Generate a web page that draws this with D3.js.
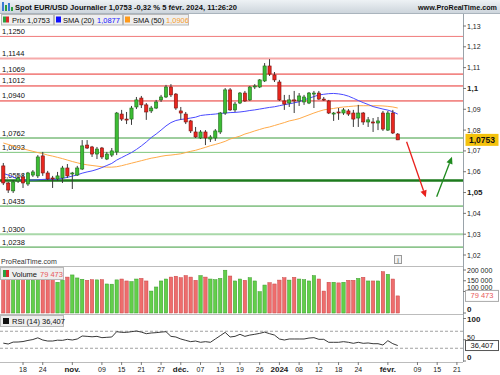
<!DOCTYPE html>
<html><head><meta charset="utf-8">
<script src="https://cdn.jsdelivr.net/npm/d3@7"></script>
<style>body{margin:0;background:#fff;} svg{display:block;font-family:"Liberation Sans",Arial,sans-serif;}</style>
</head><body><svg id="c" width="500" height="375"></svg>
<script>
// ---------------- DATA ----------------
const dates = [
 "2023-10-12","2023-10-13","2023-10-16","2023-10-17","2023-10-18","2023-10-19","2023-10-20","2023-10-23","2023-10-24","2023-10-25","2023-10-26","2023-10-27","2023-10-30","2023-10-31",
 "2023-11-01","2023-11-02","2023-11-03","2023-11-06","2023-11-07","2023-11-08","2023-11-09","2023-11-10","2023-11-13","2023-11-14","2023-11-15","2023-11-16","2023-11-17","2023-11-20","2023-11-21","2023-11-22","2023-11-23","2023-11-24","2023-11-27","2023-11-28","2023-11-29","2023-11-30",
 "2023-12-01","2023-12-04","2023-12-05","2023-12-06","2023-12-07","2023-12-08","2023-12-11","2023-12-12","2023-12-13","2023-12-14","2023-12-15","2023-12-18","2023-12-19","2023-12-20","2023-12-21","2023-12-22","2023-12-26","2023-12-27","2023-12-28","2023-12-29",
 "2024-01-02","2024-01-03","2024-01-04","2024-01-05","2024-01-08","2024-01-09","2024-01-10","2024-01-11","2024-01-12","2024-01-15","2024-01-16","2024-01-17","2024-01-18","2024-01-19","2024-01-22","2024-01-23","2024-01-24","2024-01-25","2024-01-26","2024-01-29","2024-01-30","2024-01-31",
 "2024-02-01","2024-02-02","2024-02-05"];
const futureDates = ["2024-02-06","2024-02-07","2024-02-08","2024-02-09","2024-02-12","2024-02-13","2024-02-14","2024-02-15","2024-02-16","2024-02-19","2024-02-20","2024-02-21"];

const open = [1.0628,1.0546,1.0508,1.0556,1.0575,1.0541,1.0584,1.0580,1.0676,1.0594,
 1.0570,1.0565,1.0570,1.0618,1.0589,1.0584,1.0613,1.0728,1.0719,1.0685,
 1.0714,1.0661,1.0680,1.0695,1.0877,1.0853,1.0853,1.0911,1.0954,1.0921,
 1.0892,1.0906,1.0945,1.0959,1.1007,1.0973,1.0892,1.0877,1.0844,1.0791,
 1.0762,1.0791,1.0757,1.0762,1.0791,1.0882,1.0993,1.0897,1.0930,1.0978,
 1.0945,1.1007,1.1007,1.1036,1.1108,1.1065,1.1031,1.0940,1.0930,1.0945,
 1.0940,1.0935,1.0930,1.0973,1.0978,1.0949,1.0940,1.0877,1.0887,1.0882,
 1.0892,1.0882,1.0858,1.0882,1.0839,1.0839,1.0834,1.0882,1.0800,1.0882,
 1.0781];
const high = [1.0642,1.0551,1.0560,1.0584,1.0594,1.0599,1.0608,1.0680,1.0695,1.0604,
 1.0580,1.0599,1.0628,1.0637,1.0599,1.0628,1.0752,1.0752,1.0724,1.0719,
 1.0719,1.0695,1.0714,1.0887,1.0897,1.0887,1.0916,1.0959,1.0964,1.0930,
 1.0916,1.0945,1.0969,1.1017,1.1021,1.0978,1.0911,1.0887,1.0849,1.0815,
 1.0800,1.0800,1.0776,1.0805,1.0887,1.1002,1.1002,1.0935,1.0983,1.0988,
 1.1012,1.1021,1.1045,1.1122,1.1141,1.1079,1.1041,1.0969,1.0969,1.0988,
 1.0978,1.0969,1.0983,1.0988,1.0988,1.0959,1.0945,1.0887,1.0906,1.0906,
 1.0901,1.0897,1.0921,1.0887,1.0863,1.0858,1.0863,1.0892,1.0892,1.0897,
 1.0786];
const low = [1.0536,1.0498,1.0498,1.0546,1.0522,1.0532,1.0575,1.0570,1.0580,1.0560,
 1.0522,1.0556,1.0546,1.0570,1.0517,1.0580,1.0608,1.0709,1.0671,1.0661,
 1.0661,1.0656,1.0671,1.0680,1.0844,1.0829,1.0825,1.0901,1.0906,1.0849,
 1.0882,1.0901,1.0935,1.0954,1.0959,1.0897,1.0849,1.0829,1.0786,1.0762,
 1.0757,1.0728,1.0743,1.0748,1.0781,1.0873,1.0892,1.0887,1.0925,1.0935,
 1.0940,1.0997,1.1002,1.1031,1.1060,1.1031,1.0940,1.0897,1.0911,1.0882,
 1.0916,1.0921,1.0925,1.0906,1.0945,1.0940,1.0877,1.0844,1.0849,1.0873,
 1.0868,1.0815,1.0815,1.0825,1.0815,1.0791,1.0800,1.0796,1.0796,1.0781,
 1.0752];
const close = [1.0546,1.0512,1.0551,1.0570,1.0546,1.0594,1.0599,1.0671,1.0594,1.0565,
 1.0565,1.0580,1.0618,1.0580,1.0594,1.0618,1.0724,1.0714,1.0685,1.0709,
 1.0671,1.0685,1.0700,1.0882,1.0853,1.0849,1.0906,1.0945,1.0921,1.0887,
 1.0906,1.0935,1.0959,1.1007,1.0969,1.0906,1.0882,1.0839,1.0796,1.0767,
 1.0791,1.0762,1.0767,1.0796,1.0882,1.0993,1.0897,1.0925,1.0978,1.0940,
 1.1007,1.1012,1.1041,1.1108,1.1069,1.1041,1.0945,1.0925,1.0945,1.0940,
 1.0964,1.0959,1.0978,1.0978,1.0949,1.0945,1.0882,1.0882,1.0882,1.0897,
 1.0877,1.0853,1.0882,1.0839,1.0849,1.0834,1.0844,1.0805,1.0882,1.0786,
 1.0753];
const sma20 = [1.0592,1.0584,1.0575,1.0563,1.0560,1.0560,1.0560,1.0561,1.0563,1.0564,
 1.0564,1.0564,1.0568,1.0573,1.0579,1.0585,1.0593,1.0599,1.0604,1.0611,
 1.0620,1.0630,1.0640,1.0656,1.0668,1.0680,1.0692,1.0707,1.0724,1.0743,
 1.0764,1.0781,1.0800,1.0820,1.0836,1.0846,1.0851,1.0854,1.0858,1.0862,
 1.0870,1.0873,1.0875,1.0877,1.0880,1.0882,1.0884,1.0885,1.0887,1.0890,
 1.0894,1.0897,1.0901,1.0905,1.0909,1.0912,1.0917,1.0922,1.0926,1.0931,
 1.0936,1.0945,1.0953,1.0961,1.0969,1.0972,1.0975,1.0976,1.0974,1.0970,
 1.0963,1.0953,1.0942,1.0932,1.0923,1.0913,1.0907,1.0901,1.0896,1.0888,
 1.0877];
const sma50 = [1.0738,1.0731,1.0724,1.0716,1.0710,1.0704,1.0698,1.0692,1.0687,1.0680,
 1.0675,1.0669,1.0663,1.0656,1.0649,1.0643,1.0637,1.0633,1.0630,1.0627,
 1.0624,1.0622,1.0622,1.0624,1.0629,1.0635,1.0641,1.0647,1.0653,1.0659,
 1.0665,1.0669,1.0674,1.0678,1.0680,1.0683,1.0686,1.0692,1.0698,1.0703,
 1.0710,1.0717,1.0725,1.0731,1.0738,1.0746,1.0757,1.0764,1.0771,1.0781,
 1.0788,1.0796,1.0803,1.0810,1.0815,1.0822,1.0829,1.0836,1.0844,1.0849,
 1.0855,1.0864,1.0873,1.0882,1.0890,1.0897,1.0901,1.0904,1.0908,1.0911,
 1.0913,1.0915,1.0917,1.0917,1.0917,1.0917,1.0917,1.0916,1.0914,1.0911,
 1.0906];
const volume = [164000,167000,158000,158000,167000,167000,152000,158000,154000,154000,
 161000,143000,152000,167000,177000,163000,157000,152000,155000,154000,
 155000,135000,134000,154000,158000,149000,146000,158000,161000,149000,
 102000,121000,149000,158000,167000,171000,164000,174000,167000,152000,
 174000,167000,158000,155000,161000,199000,172000,149000,158000,152000,
 164000,149000,99000,130000,141000,135000,153000,164000,153000,166000,
 158000,155000,149000,174000,158000,102000,143000,143000,140000,143000,
 152000,152000,161000,166000,149000,149000,149000,192000,180000,158000,
 79473];
const rsi14 = [42,40,44.5,44.7,45.8,48.4,50.5,54.5,49.4,47,
 47,49,48.6,51,49.4,51.8,58.8,58,57,58,
 54.9,55.7,56.5,69,67.4,67.4,69,70.6,68,64.3,
 65.9,66.7,68,69,58,56.5,51.8,48.6,45.5,47,
 44,45.5,44,51.8,59.5,67.4,56.5,58,62.8,58,
 61,62.8,65,68,64.3,61,51.8,49.4,51.8,51.8,
 51.8,51.8,54,54.9,51,51,44,44,44,45.5,
 44,41.6,44,41.6,42.4,40.7,40.7,37.6,47.8,40.7,
 36.407];

const levels = [1.1250,1.1144,1.1069,1.1012,1.0940,1.0762,1.0693,1.0558,1.0435,1.0300,1.0238];
const levelLabels = ["1,1250","1,1144","1,1069","1,1012","1,0940","1,0762","1,0693","1,0558","1,0435","1,0300","1,0238"];
const levelKinds = ["resLight","resPale","res","res","res","sup","supLight","supMajor","sup","supPale","sup"];

const priceTicks = [1.13,1.12,1.11,1.10,1.09,1.08,1.07,1.06,1.05,1.04,1.03,1.02];
const priceTickLabels = ["1,13","1,12","1,11","1,1","1,09","1,08","1,07","1,06","1,05","1,04","1,03","1,02"];
const volumeTicks = [0,100000,150000,200000];
const volumeTickLabels = ["0","100 000","150 000","200 000"];
const rsiTicks = [0,50,100];
const rsiTickLabels = ["0","50","100"];
const rsiBands = [70,30];

const tickDates = ["2023-10-18","2023-10-24","2023-11-01","2023-11-09","2023-11-15","2023-11-21","2023-11-27","2023-12-01","2023-12-07","2023-12-13","2023-12-19","2023-12-26","2024-01-02","2024-01-08","2024-01-12","2024-01-18","2024-01-24","2024-02-01","2024-02-09","2024-02-15","2024-02-21"];
const tickLabels = ["18","24","nov.","09","15","21","27","déc.","07","13","19","26","2024","08","12","18","24","févr.","09","15","21"];
const tickMajor = ["nov.","déc.","2024","févr."];

// annotation arrows: [bar index, price]
const arrowStart = [[81.8,1.0744],[87.9,1.0480]];
const arrowEnd = [[85.7,1.0477],[91.0,1.0672]];
const arrowKinds = ["down","up"];

const title = "Spot EUR/USD Journalier 1,0753 -0,32 % 5 févr. 2024, 11:26:20";
const lastPrice = "1,0753", sma20Label = "1,0877", sma50Label = "1,0906";
const lastVolume = "79 473", lastRsi = "36,407";

// ---------------- DRAW ----------------
const svg = d3.select("#c");
const AX = 463;
const allDates = dates.concat(futureDates);
const x = d3.scalePoint().domain(allDates).range([3.3, 456.9]);
const xi = d3.scaleLinear().domain([0, allDates.length - 1]).range([3.3, 456.9]);
const y = d3.scaleLinear().domain([1.02, 1.13]).range([255, 26]);
const yv = d3.scaleLinear().domain([0, 200000]).range([313, 270]);
const yr = d3.scaleLinear().domain([0, 100]).range([361, 318.5]);

const defs = svg.append("defs");
const hg = defs.append("linearGradient").attr("id","hg").attr("x1",0).attr("y1",0).attr("x2",0).attr("y2",1);
hg.append("stop").attr("offset",0).attr("stop-color","#eef2f5");
hg.append("stop").attr("offset",1).attr("stop-color","#cdd5dc");
defs.append("clipPath").attr("id","mainClip").append("rect").attr("x",0).attr("y",26).attr("width",AX).attr("height",240);

function txt(g, xx, yy, s, o = {}) {
  const t = g.append("text").attr("x", xx).attr("y", yy).text(s)
    .attr("font-size", o.size || 7.5).attr("fill", o.fill || "#111")
    .attr("font-weight", o.bold ? "bold" : "normal")
    .attr("text-anchor", o.anchor || "start");
  if (o.len) t.attr("textLength", o.len).attr("lengthAdjust", "spacingAndGlyphs");
  return t;
}

// header
svg.append("rect").attr("x",0).attr("y",0).attr("width",500).attr("height",13).attr("fill","url(#hg)");
svg.append("line").attr("x1",0).attr("x2",500).attr("y1",13.5).attr("y2",13.5).attr("stroke","#aab4bd");
[[2,7,"#3a7bd5"],[5,4,"#2aa040"],[8,6,"#3a7bd5"],[11,2,"#2aa040"]].forEach(([bx,bh,c]) =>
  svg.append("rect").attr("x",bx).attr("y",11-bh-2).attr("width",2).attr("height",bh+2).attr("fill",c));
txt(svg, 15, 10, title, {bold:true, size:8, len:222});
txt(svg, 418, 10, "www.ProRealTime.com", {bold:true, size:7.5, len:79});

// legend row
const leg = svg.append("g");
function legBox(x0, w) {
  leg.append("rect").attr("x",x0+0.5).attr("y",14.5).attr("width",w).attr("height",10.5)
    .attr("fill","#eeeeee").attr("stroke","#b9b9b9");
}
legBox(1,52); legBox(54,68); legBox(123,65);
leg.append("rect").attr("x",3).attr("y",16.5).attr("width",3).attr("height",6).attr("fill","#2aa040");
leg.append("rect").attr("x",6).attr("y",16.5).attr("width",3).attr("height",6).attr("fill","#d92b2b");
txt(leg, 12, 22.5, "Prix " + lastPrice, {size:7.5});
leg.append("rect").attr("x",56).attr("y",16.5).attr("width",5).attr("height",6).attr("fill","#1010ff");
txt(leg, 63, 22.5, "SMA (20)", {size:7.5});
txt(leg, 97, 22.5, sma20Label, {size:7.5, fill:"#2020ff"});
leg.append("rect").attr("x",125).attr("y",16.5).attr("width",5).attr("height",6).attr("fill","#ff9a1a");
txt(leg, 133, 22.5, "SMA (50)", {size:7.5});
txt(leg, 166, 22.5, sma50Label, {size:7.5, fill:"#f7a030"});

// main panel
const main = svg.append("g").attr("clip-path","url(#mainClip)");
const levelStyle = {
  resLight: {c:"#f07a7a", w:1}, resPale: {c:"#f6aaaa", w:2}, res: {c:"#e8302c", w:1},
  sup: {c:"#3c9c3c", w:1}, supLight: {c:"#7dc57d", w:1}, supMajor: {c:"#1d7a1d", w:2.5},
  supPale: {c:"#a9d8a9", w:2}
};
const lv = levels.map((v,i) => ({v, label: levelLabels[i], kind: levelKinds[i]}));
main.selectAll("line.lvl").data(lv).join("line").attr("class","lvl")
  .attr("x1",0).attr("x2",AX).attr("y1",d=>y(d.v)).attr("y2",d=>y(d.v))
  .attr("stroke",d=>levelStyle[d.kind].c).attr("stroke-width",d=>levelStyle[d.kind].w);
main.selectAll("text.lvl").data(lv).join("text").attr("class","lvl")
  .attr("x",2).attr("y",d=>y(d.v)-2.5).text(d=>d.label)
  .attr("font-size",7.5).attr("fill","#111");

// moving averages
const lineGen = arr => d3.line().x((d,i)=>x(dates[i])).y(d=>y(d))(arr);
main.append("path").attr("d", lineGen(sma50)).attr("fill","none").attr("stroke","#ffab4a").attr("stroke-width",1);
main.append("path").attr("d", lineGen(sma20)).attr("fill","none").attr("stroke","#4a4aff").attr("stroke-width",1);

// candles
const candles = dates.map((d,i)=>({d, o:open[i], h:high[i], l:low[i], c:close[i]}));
main.selectAll("line.wick").data(candles).join("line").attr("class","wick")
  .attr("x1",d=>x(d.d)).attr("x2",d=>x(d.d)).attr("y1",d=>y(d.h)).attr("y2",d=>y(d.l))
  .attr("stroke","#3a3a3a").attr("stroke-width",1);
main.selectAll("rect.body").data(candles).join("rect").attr("class","body")
  .attr("x",d=>x(d.d)-1.6).attr("width",3.2)
  .attr("y",d=>y(Math.max(d.o,d.c)))
  .attr("height",d=>Math.max(1, Math.abs(y(d.o)-y(d.c))))
  .attr("fill",d=>d.c>=d.o ? "#3cbc34" : "#e8261f")
  .attr("stroke",d=>d.c>=d.o ? "#1f6a1a" : "#7a1410").attr("stroke-width",0.6);

// arrows
const arrowColor = {down:"#e8201c", up:"#1f8a1f"};
arrowStart.forEach((s,i) => {
  const x1 = xi(s[0]), y1 = y(s[1]), x2 = xi(arrowEnd[i][0]), y2 = y(arrowEnd[i][1]);
  const ang = Math.atan2(y2-y1, x2-x1), L = 7, Wd = 3.2;
  const bx = x2 - L*Math.cos(ang), by = y2 - L*Math.sin(ang);
  const col = arrowColor[arrowKinds[i]];
  main.append("line").attr("x1",x1).attr("y1",y1).attr("x2",bx).attr("y2",by)
    .attr("stroke",col).attr("stroke-width",1.3);
  const px = -Math.sin(ang)*Wd, py = Math.cos(ang)*Wd;
  main.append("polygon").attr("points",[[x2,y2],[bx+px,by+py],[bx-px,by-py]].map(p=>p.join(",")).join(" "))
    .attr("fill",col);
});

// ProRealTime watermark & info icon
txt(svg, 1, 263.5, "ProRealTime.com", {size:7, fill:"#333"});
svg.append("rect").attr("x",394.5).attr("y",255.5).attr("width",7).attr("height",8).attr("fill","#f2f2f2").attr("stroke","#999");
txt(svg, 398, 262.5, "i", {size:7, anchor:"middle", fill:"#555"});

// panel separators
[266.5, 314.5, 362.5].forEach(yy => svg.append("line").attr("x1",0).attr("x2",AX).attr("y1",yy).attr("y2",yy).attr("stroke","#bcbcbc"));
svg.append("line").attr("x1",AX+0.5).attr("x2",AX+0.5).attr("y1",14).attr("y2",362).attr("stroke","#9aa3aa");

// price axis
const pa = svg.append("g");
priceTicks.forEach((v,i) => {
  const yy = y(v);
  pa.append("line").attr("x1",AX).attr("x2",AX+3).attr("y1",yy).attr("y2",yy).attr("stroke","#777");
  const major = priceTickLabels[i] === "1,1" || priceTickLabels[i] === "1,05";
  txt(pa, 467, yy+2.5, priceTickLabels[i], {size: major ? 8 : 7, bold: major, fill:"#222"});
});
pa.append("rect").attr("x",465.5).attr("y",y(close[close.length-1])-6).attr("width",33).attr("height",12).attr("fill","#f4c20d");
txt(pa, 482, y(close[close.length-1])+3, lastPrice, {size:8.5, bold:true, anchor:"middle"});

// volume panel
const vols = dates.map((d,i)=>({d, v:volume[i], up: close[i]>=open[i]}));
svg.selectAll("rect.vol").data(vols).join("rect").attr("class","vol")
  .attr("x",d=>x(d.d)-1.7).attr("width",3.4)
  .attr("y",d=>yv(d.v)).attr("height",d=>yv(0)-yv(d.v))
  .attr("fill",d=>d.up ? "#62cf4a" : "#ee6d6d")
  .attr("stroke",d=>d.up ? "#3a9a2c" : "#c84444").attr("stroke-width",0.5);
const vl = svg.append("g");
vl.append("rect").attr("x",0.5).attr("y",267.5).attr("width",63).attr("height",12).attr("fill","#eeeeee").attr("stroke","#b9b9b9");
vl.append("rect").attr("x",3).attr("y",270).attr("width",3).attr("height",7).attr("fill","#2aa040");
vl.append("rect").attr("x",6).attr("y",270).attr("width",3).attr("height",7).attr("fill","#d92b2b");
txt(vl, 12, 276.5, "Volume", {size:7.5});
txt(vl, 40, 276.5, lastVolume, {size:7.5, fill:"#e85a5a"});
const volBoxTop = yv(volume[volume.length-1]) - 5.5;
volumeTicks.forEach((v,i) => {
  const yy = yv(v);
  vl.append("line").attr("x1",AX).attr("x2",AX+3).attr("y1",yy).attr("y2",yy).attr("stroke","#777");
  const isZero = v === 0;
  const by = isZero ? yy-1 : Math.min(yy+2.5, volBoxTop-0.8);
  txt(vl, 467, by, volumeTickLabels[i], {size: isZero ? 8 : 7, bold: isZero, fill:"#222"});
});
vl.append("rect").attr("x",465.5).attr("y",volBoxTop).attr("width",33).attr("height",11).attr("fill","#fff").attr("stroke","#aaa");
txt(vl, 482, yv(volume[volume.length-1])+2.5, lastVolume, {size:7.5, anchor:"middle", fill:"#e85a5a"});

// RSI panel
const rp = svg.append("g");
rsiBands.forEach(b => rp.append("line").attr("x1",0).attr("x2",AX).attr("y1",yr(b)).attr("y2",yr(b))
  .attr("stroke","#8a8a8a").attr("stroke-dasharray","3,2").attr("stroke-width",0.8));
rp.append("path").attr("d", d3.line().x((d,i)=>x(dates[i])).y(d=>yr(d))(rsi14))
  .attr("fill","none").attr("stroke","#222").attr("stroke-width",0.9);
rp.append("rect").attr("x",0.5).attr("y",315.5).attr("width",63).attr("height",11).attr("fill","#eeeeee").attr("stroke","#b9b9b9");
rp.append("rect").attr("x",3).attr("y",318).attr("width",6).attr("height",6).attr("fill","#111");
txt(rp, 12, 324, "RSI (14) " + lastRsi, {size:7.5});
const rsiBoxTop = yr(rsi14[rsi14.length-1]) - 5;
rsiTicks.forEach((v,i) => {
  const yy = yr(v);
  rp.append("line").attr("x1",AX).attr("x2",AX+3).attr("y1",yy).attr("y2",yy).attr("stroke","#777");
  const major = v !== 50;
  const by = v === 0 ? yy-1 : (v === 50 ? Math.min(yy+3, rsiBoxTop-0.8) : yy+3);
  txt(rp, 467, by, rsiTickLabels[i], {size: major ? 8 : 7, bold: major, fill:"#222"});
});
rp.append("rect").attr("x",465.5).attr("y",rsiBoxTop).attr("width",33).attr("height",10).attr("fill","#fff").attr("stroke","#555");
txt(rp, 482, yr(rsi14[rsi14.length-1])+2.5, lastRsi, {size:7.5, anchor:"middle"});

// date axis
const da = svg.append("g");
tickDates.forEach((d,i) => {
  const xx = x(d);
  da.append("line").attr("x1",xx).attr("x2",xx).attr("y1",362).attr("y2",365).attr("stroke","#777");
  const major = tickMajor.includes(tickLabels[i]);
  txt(da, xx, 372, tickLabels[i], {size: major ? 8 : 7, bold: major, anchor:"middle", fill:"#222"});
});
</script></body></html>
